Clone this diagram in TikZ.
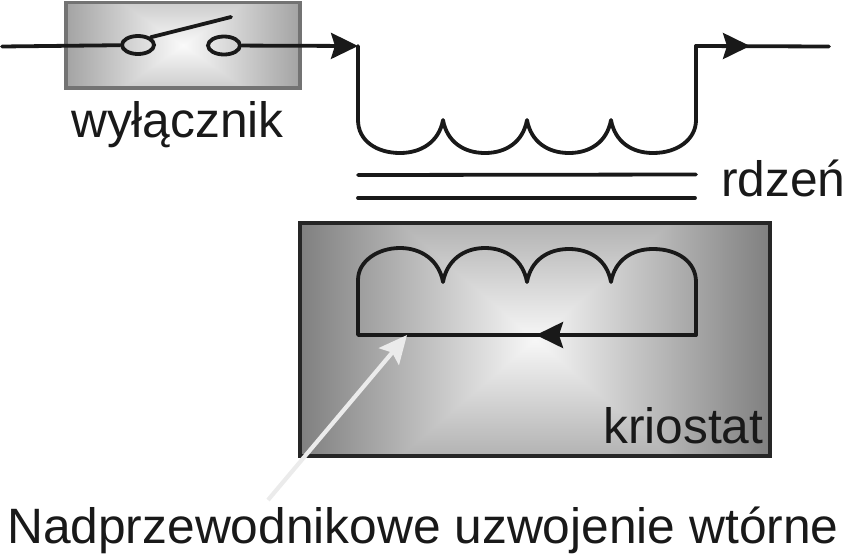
\documentclass[tikz,border=0pt]{standalone}
\usepackage{fontspec}
\setmainfont{Liberation Sans}
\usetikzlibrary{arrows.meta}
\usetikzlibrary{shapes.geometric}

\pgfdeclarefunctionalshading{kriostatfill}{\pgfpointorigin}{\pgfpoint{100bp}{100bp}}{}{
  50 sub abs 25 div 0.27 mul exch 50 sub abs 25 div 0.47 mul
  2 copy lt {exch} if pop 0.97 exch sub dup dup
}
\pgfdeclarefunctionalshading{switchfill}{\pgfpointorigin}{\pgfpoint{100bp}{100bp}}{}{
  50 sub abs 25 div 0.18 mul exch 50 sub abs 25 div 0.34 mul
  2 copy lt {exch} if pop 0.98 exch sub dup dup
}

\definecolor{wirecol}{gray}{0.1}
\tikzset{
  wire/.style={draw=wirecol,line width=3.8pt,line cap=round,line join=round},
  tip/.style={-{Stealth[length=27pt,width=26pt,inset=4pt]}},
  label/.style={anchor=base west,inner sep=0pt,text=wirecol,font=\fontsize{49.7}{50}\selectfont},
  contact/.style={ellipse,draw=wirecol,line width=3.8pt,minimum width=32pt,minimum height=18pt,inner sep=0pt},
}

\begin{document}
\begin{tikzpicture}[x=1pt,y=-1pt]
\useasboundingbox (0,0) rectangle (845,555);

% boxes
\path[shading=switchfill,draw=black!55,line width=3.5pt] (66,2.5) rectangle (300,88);
\path[shading=kriostatfill,draw=black!85,line width=3.5pt] (300,223) rectangle (770,456);

% switch
\node[contact] (left) at (138,45) {};
\node[contact] (right) at (224,45.5) {};
\coordinate (in) at (2,46.5);
\coordinate (bladeend) at (231,17);
\coordinate (coilin) at (358,46);
\draw[wire] (in) -- (left);
\draw[wire] (left.north east) -- (bladeend);
\draw[wire,tip] (right) -- (coilin);

% primary coil
\coordinate (coilout) at (696,46);
\coordinate (midtip) at (750,46);
\coordinate (out) at (829,46.5);
\draw[wire] (coilin) -- (358,120)
  .. controls (358,141) and (377,153) .. (400,153)
  .. controls (421,153) and (439,142) .. (443,120)
  .. controls (447,142) and (464,153) .. (485,153)
  .. controls (506,153) and (523,142) .. (527,120)
  .. controls (531,142) and (548,153) .. (569,153)
  .. controls (590,153) and (607,142) .. (611,120)
  .. controls (615,142) and (632,153) .. (653,153)
  .. controls (678,153) and (696,139) .. (696,120)
  -- (coilout) -- (out);
\draw[wire,tip] (coilout) -- (midtip);

% core
\draw[wire] (358,175) -- (696,174.5);
\draw[wire] (358,198) -- (695,198);

% secondary coil
\coordinate (secright) at (696,335);
\coordinate (secmid) at (536,335);
\coordinate (secleft) at (358,335);
\draw[wire] (secright) -- (secleft) -- (358,280)
  .. controls (358,261) and (378,248) .. (400,248)
  .. controls (421,248) and (439,260) .. (443,282)
  .. controls (447,260) and (464,248) .. (485,248)
  .. controls (506,248) and (523,260) .. (527,282)
  .. controls (531,260) and (548,249) .. (569,249)
  .. controls (590,249) and (607,260) .. (611,282)
  .. controls (615,260) and (632,249) .. (653,249)
  .. controls (678,249) and (696,262) .. (696,282)
  -- (secright);
\draw[wire,tip] (secright) -- (secmid);

% pointer
\coordinate (ptrstart) at (268,500);
\coordinate (ptrend) at (407,335);
\draw[draw=black!8,line width=4.2pt,-{Stealth[length=28pt,width=26pt,inset=5pt]}] (ptrstart) -- (ptrend);

% labels
\node[label] (switchlabel) at (71,137) {wyłącznik};
\node[label] (corelabel) at (721,196) {rdzeń};
\node[label] (cryolabel) at (603,443) {kriostat};
\node[label] (windinglabel) at (7,543) {Nadprzewodnikowe uzwojenie wtórne};
\end{tikzpicture}
\end{document}
